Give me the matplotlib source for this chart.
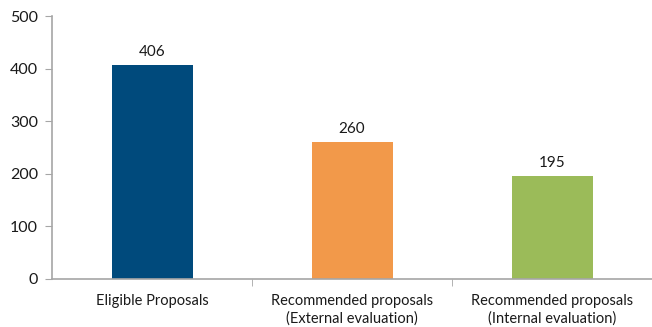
import numpy as np
import matplotlib.pyplot as plt

categories = ['Eligible Proposals',
              'Recommended proposals\n(External evaluation)',
              'Recommended proposals\n(Internal evaluation)']
values = [406, 260, 195]
colors = ['#004A7C', '#F2994A', '#9BBB59']

plt.rcParams['font.family'] = ['Lato', 'DejaVu Sans']

fig = plt.figure(figsize=(6.52, 3.27), dpi=100)
ax = fig.add_axes([52 / 652, 1 - 279 / 327, 600 / 652, 263 / 327])

x = np.arange(len(categories))
bars = ax.bar(x, values, width=0.405, color=colors)
for b, v in zip(bars, values):
    ax.text(b.get_x() + b.get_width() / 2, v + 12, str(v),
            ha='center', va='bottom', fontsize=11, color='#1a1a1a')

ax.set_xlim(-0.5, len(categories) - 0.5)
ax.set_ylim(0, 500)
ax.set_yticks(range(0, 501, 100))
ax.set_xticks(x)
ax.set_xticklabels(categories, fontsize=10.5, color='#1a1a1a', linespacing=1.25)
ax.set_xticks([0.5, 1.5], minor=True)
ax.tick_params(axis='x', which='major', length=0, pad=11)
ax.tick_params(axis='x', which='minor', length=5, color='#A6A6A6', direction='out')
ax.tick_params(axis='y', length=5, color='#A6A6A6', labelsize=11.5,
               labelcolor='#1a1a1a', pad=5)

for side in ['top', 'right']:
    ax.spines[side].set_visible(False)
for side in ['left', 'bottom']:
    ax.spines[side].set_color('#A6A6A6')
    ax.spines[side].set_linewidth(1.2)

fig.savefig('out.png', dpi=100)
